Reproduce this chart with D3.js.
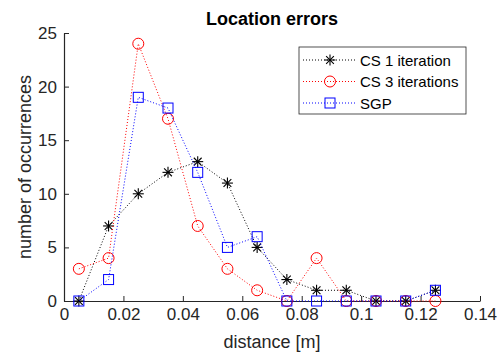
<!DOCTYPE html>
<html>
<head>
<meta charset="utf-8">
<script src="https://cdn.jsdelivr.net/npm/d3@7"></script>
<style>
  body { margin: 0; background: #fff; }
  text { font-family: "Liberation Sans", Arial, sans-serif; }
</style>
</head>
<body>
<div id="chart"></div>
<script>
// bin centres (distance [m])
var distances = [0.005, 0.015, 0.025, 0.035, 0.045, 0.055, 0.065, 0.075, 0.085, 0.095, 0.105, 0.115, 0.125];
var cs1Counts = [0, 7, 10, 12, 13, 11, 5, 2, 1, 1, 0, 0, 1];
var cs3Counts = [3, 4, 24, 17, 7, 3, 1, 0, 4, 0, 0, 0, 0];
var sgpCounts = [0, 2, 19, 18, 12, 5, 6, 0, 0, 0, 0, 0, 1];
var xTicks = [0, 0.02, 0.04, 0.06, 0.08, 0.1, 0.12, 0.14];
var yTicks = [0, 5, 10, 15, 20, 25];
var seriesNames = ["CS 1 iteration", "CS 3 iterations", "SGP"];

var W = 502, H = 356;
var margin = { left: 64, right: 22, top: 33, bottom: 55 };

var svg = d3.select("#chart").append("svg")
    .attr("width", W)
    .attr("height", H);

var x = d3.scaleLinear().domain([0, 0.14]).range([margin.left, W - margin.right]);
var y = d3.scaleLinear().domain([0, 25]).range([H - margin.bottom, margin.top]);

// axes (ticks point inward, like matlab)
var xAxis = svg.append("g")
    .attr("transform", "translate(0," + y(0) + ")")
    .call(d3.axisBottom(x).tickValues(xTicks).tickSizeInner(-5).tickSizeOuter(0).tickPadding(7)
      .tickFormat(function(d) { return d3.format("")(+d.toFixed(2)); }));
var yAxis = svg.append("g")
    .attr("transform", "translate(" + x(0) + ",0)")
    .call(d3.axisLeft(y).tickValues(yTicks).tickSizeInner(-5).tickSizeOuter(0).tickPadding(7));

[xAxis, yAxis].forEach(function(a) {
  a.attr("font-family", null).attr("font-size", null);
  a.select(".domain").attr("stroke", "#262626").attr("stroke-width", 1.2);
  a.selectAll(".tick line").attr("stroke", "#262626");
  a.selectAll(".tick text").attr("fill", "#262626").style("font-size", "17px");
});

// titles
svg.append("text")
    .attr("x", (margin.left + W - margin.right) / 2).attr("y", 25)
    .attr("text-anchor", "middle")
    .style("font-size", "18px").attr("font-weight", "bold").attr("fill", "#000")
    .text("Location errors");

svg.append("text")
    .attr("x", (margin.left + W - margin.right) / 2).attr("y", 348)
    .attr("text-anchor", "middle")
    .style("font-size", "18px").attr("fill", "#262626")
    .text("distance [m]");

svg.append("text")
    .attr("transform", "translate(31," + ((margin.top + H - margin.bottom) / 2) + ") rotate(-90)")
    .attr("text-anchor", "middle")
    .style("font-size", "18px").attr("fill", "#262626")
    .text("number of occurrences");

// marker drawers
function drawStar(g, cx, cy, color) {
  var r = 5.5;
  var s = g.append("g").attr("transform", "translate(" + cx + "," + cy + ")")
      .attr("stroke", color).attr("stroke-width", 1.1);
  [0, 45, 90, 135].forEach(function(a) {
    var rad = a * Math.PI / 180;
    s.append("line")
      .attr("x1", -r * Math.cos(rad)).attr("y1", -r * Math.sin(rad))
      .attr("x2", r * Math.cos(rad)).attr("y2", r * Math.sin(rad));
  });
}
function drawCircle(g, cx, cy, color) {
  g.append("circle").attr("cx", cx).attr("cy", cy).attr("r", 5.5)
    .attr("fill", "none").attr("stroke", color).attr("stroke-width", 1);
}
function drawSquare(g, cx, cy, color) {
  g.append("rect").attr("x", cx - 5).attr("y", cy - 5).attr("width", 10).attr("height", 10)
    .attr("fill", "none").attr("stroke", color).attr("stroke-width", 1);
}

var series = [
  { name: seriesNames[0], values: cs1Counts, color: "#000000", marker: drawStar },
  { name: seriesNames[1], values: cs3Counts, color: "#ff0000", marker: drawCircle },
  { name: seriesNames[2], values: sgpCounts, color: "#0000ff", marker: drawSquare }
];

var line = d3.line()
    .x(function(d) { return x(d[0]); })
    .y(function(d) { return y(d[1]); });

series.forEach(function(s) {
  var pts = distances.map(function(d, i) { return [d, s.values[i]]; });
  svg.append("path")
    .datum(pts)
    .attr("d", line)
    .attr("fill", "none")
    .attr("stroke", s.color)
    .attr("stroke-width", 1)
    .attr("stroke-dasharray", "1,2");
  var g = svg.append("g");
  pts.forEach(function(p) { s.marker(g, x(p[0]), y(p[1]), s.color); });
});

// legend
var lx = 299, ly = 47, lw = 167, lh = 67;
var legend = svg.append("g");
legend.append("rect")
    .attr("x", lx).attr("y", ly).attr("width", lw).attr("height", lh)
    .attr("fill", "#fff").attr("stroke", "#262626").attr("stroke-width", 0.8);
series.forEach(function(s, i) {
  var yy = ly + 13 + i * 21.5;
  legend.append("line")
    .attr("x1", lx + 4).attr("x2", lx + 57).attr("y1", yy).attr("y2", yy)
    .attr("stroke", s.color).attr("stroke-dasharray", "1,2");
  s.marker(legend, lx + 31, yy, s.color);
  legend.append("text")
    .attr("x", lx + 61).attr("y", yy + 5.5)
    .style("font-size", "15px").attr("fill", "#000")
    .text(s.name);
});
</script>
</body>
</html>
